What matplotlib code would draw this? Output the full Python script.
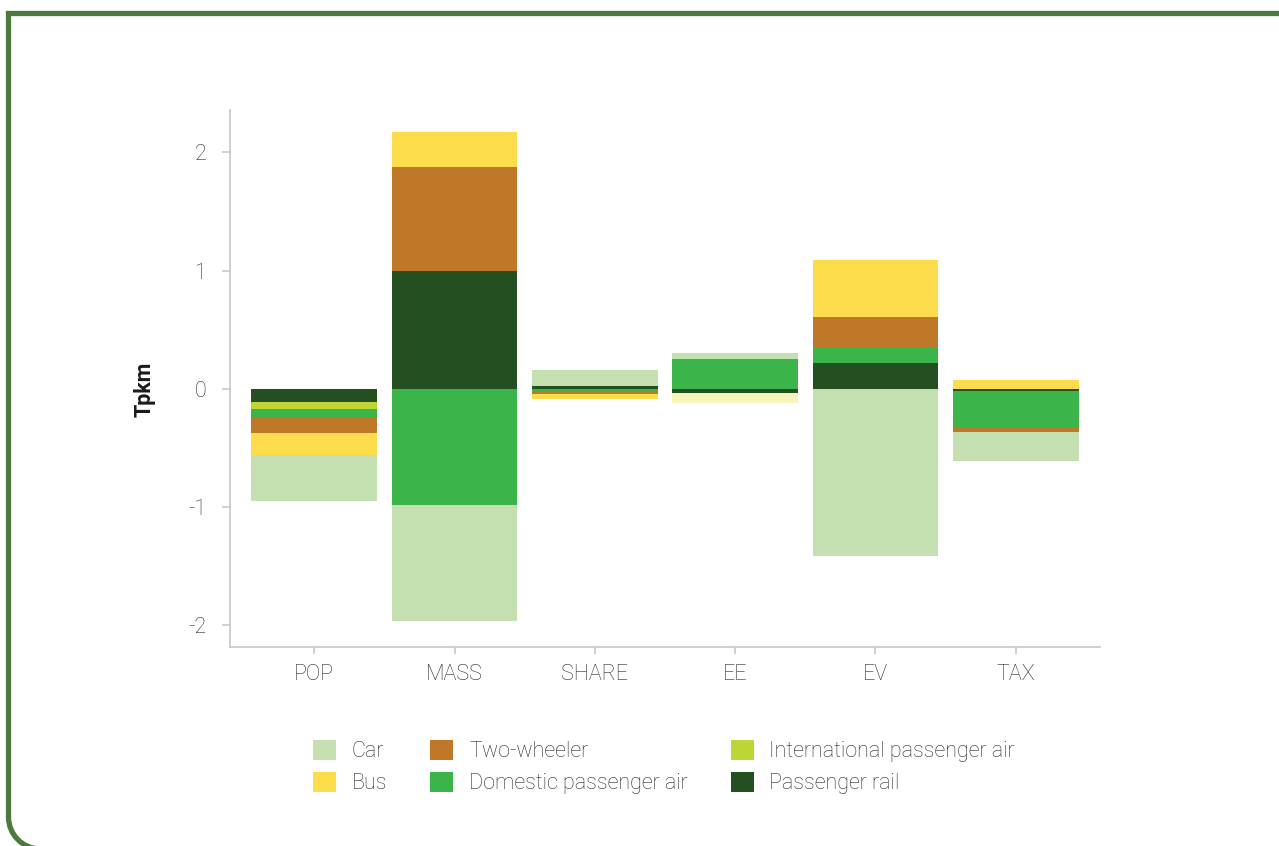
import numpy as np
import matplotlib
matplotlib.use("Agg")
import matplotlib.pyplot as plt
from matplotlib.path import Path
from matplotlib.patches import PathPatch, Patch

plt.rcParams['font.family'] = ['Roboto', 'DejaVu Sans']

# %% data (Tpkm)
categories = ['POP', 'MASS', 'SHARE', 'EE', 'EV', 'TAX']
car = [-0.39, -0.98, 0.135, 0.05, -1.42, -0.25]
bus = [-0.18, 0.29, -0.035, 0.0, 0.48, 0.07]
two_wheeler = [-0.13, 0.88, -0.025, 0.0, 0.27, -0.035]
domestic_air = [-0.08, -0.99, -0.025, 0.25, 0.12, -0.31]
intl_air = [-0.06, 0.0, 0.0, 0.0, 0.0, 0.0]
rail = [-0.11, 1.0, 0.025, -0.035, 0.22, -0.02]
other = [0.0, 0.0, 0.0, -0.09, 0.0, 0.0]   # unlabelled pale segment

# stacking order from zero outwards
series = [
    (rail, '#234f21', 'Passenger rail'),
    (other, '#f5f5bb', None),
    (intl_air, '#bdd535', 'International passenger air'),
    (domestic_air, '#3bb54a', 'Domestic passenger air'),
    (two_wheeler, '#bf7728', 'Two-wheeler'),
    (bus, '#fddd4b', 'Bus'),
    (car, '#c4e0b0', 'Car'),
]

W, H = 1279, 846
FS = 15.5
TXT = '#2a2a2a'
fig = plt.figure(figsize=(W/100, H/100), dpi=100)
ax = fig.add_axes([230/W, 1-647/H, 870/W, 537/H])

x = np.arange(len(categories))
pos = np.zeros(len(categories))
neg = np.zeros(len(categories))
for vals, col, lab in series:
    v = np.asarray(vals, dtype=float)
    bottom = np.where(v >= 0, pos, neg)
    ax.bar(x, v, bottom=bottom, width=0.895, color=col, linewidth=0)
    pos += np.where(v >= 0, v, 0)
    neg += np.where(v < 0, v, 0)

ax.set_xlim(-0.6, 5.6)
ax.set_ylim(-2.19, 2.36)
ax.set_xticks(x)
ax.set_xticklabels(categories)
ax.set_yticks([-2, -1, 0, 1, 2])
ax.set_yticklabels(['-2', '-1', '0', '1', '2'])
for s in ['top', 'right']:
    ax.spines[s].set_visible(False)
for s in ['left', 'bottom']:
    ax.spines[s].set_color('#c8c8cc')
    ax.spines[s].set_linewidth(1.2)
ax.tick_params(axis='y', length=6, width=1.2, color='#c8c8cc', pad=11,
               labelsize=FS, labelcolor=TXT)
ax.tick_params(axis='x', length=5, width=1.2, color='#c8c8cc', pad=7,
               labelsize=FS, labelcolor=TXT)
for t in ax.get_xticklabels() + ax.get_yticklabels():
    t.set_fontweight('light')
ax.set_ylabel('Tpkm', fontsize=FS, fontweight='bold', color='#1a1a1a')
ax.yaxis.set_label_coords(-0.086, (647-389)/537)

# legend
leg_items = [('Car', '#c4e0b0'), ('Bus', '#fddd4b'),
             ('Two-wheeler', '#bf7728'), ('Domestic passenger air', '#3bb54a'),
             ('International passenger air', '#bdd535'), ('Passenger rail', '#234f21')]
handles = [Patch(facecolor=c, edgecolor='none', label=l) for l, c in leg_items]
leg = fig.legend(handles=handles, ncol=3, loc='center', bbox_to_anchor=(664/W, 1-767/H),
                 frameon=False, fontsize=FS, handlelength=1.08, handleheight=1.08,
                 handletextpad=0.72, columnspacing=2.0, labelspacing=0.42)
for t in leg.get_texts():
    t.set_fontweight('light')
    t.set_color(TXT)

# green frame (square top-left, rounded bottom-left)
k = 0.5523
r = 32
pts_px = [(1300, 13.5), (8.5, 13.5), (8.5, 817),
          (8.5, 817 + r*k), (8.5 + r - r*k, 849), (8.5 + r, 849),
          (1300, 849)]
codes = [Path.MOVETO, Path.LINETO, Path.LINETO,
         Path.CURVE4, Path.CURVE4, Path.CURVE4, Path.LINETO]
verts = [(px/100, (H - py)/100) for px, py in pts_px]
frame = PathPatch(Path(verts, codes), facecolor='none', edgecolor='#4a7a3c',
                  linewidth=3.8, transform=fig.dpi_scale_trans)
fig.patches.append(frame)

fig.savefig('out.png', dpi=100)
